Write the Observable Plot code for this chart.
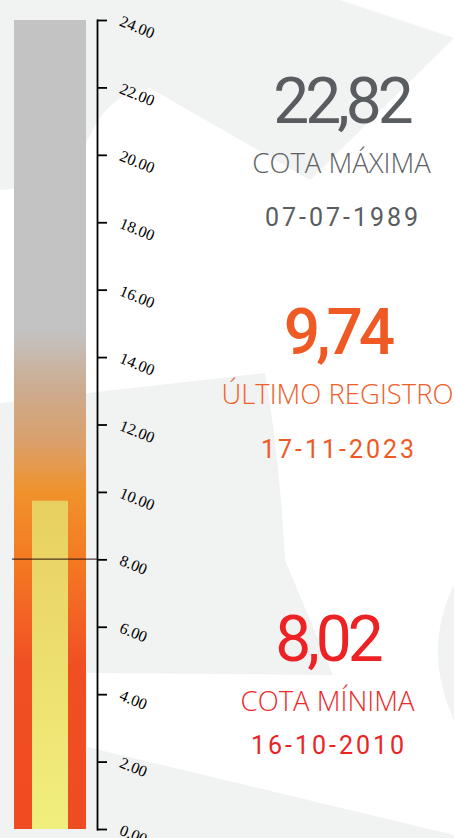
<!DOCTYPE html>
<html><head><meta charset="utf-8">
<script src="https://cdn.jsdelivr.net/npm/d3@7"></script>
<script src="https://cdn.jsdelivr.net/npm/@observablehq/plot@0.6"></script>
<style>
html,body{margin:0;padding:0;background:#fff;}
#wrap{position:relative;width:454px;height:838px;overflow:hidden;}
#bg{position:absolute;left:0;top:0;}
#chart{position:absolute;left:0;top:0;}
</style></head><body>
<div id="wrap">
<svg id="bg" width="454" height="838" viewBox="0 0 454 838">
 <rect width="454" height="838" fill="#ffffff"/>
 <path fill="#f1f2f2" d="M0,0 L340,0 L454,38 L310,180 L150,88 Q115,92 95,125 Q70,185 0,190 Z"/>
 <path fill="#f1f2f2" d="M0,403 L265,373 Q280,460 285,560 L333,675 L87,673 L87,747 L454,835 L454,838 L0,838 Z"/>
 <path fill="#f1f2f2" d="M454,585 Q422,650 454,720 Z"/>
</svg>
<div id="chart"></div>
</div>
<script>
// ---- data ----
const yMax = 24;
const yTicks = [0, 2, 4, 6, 8, 10, 12, 14, 16, 18, 20, 22, 24];
const barKey = ["nivel"];
const statLabels = ["COTA MÁXIMA", "ÚLTIMO REGISTRO", "COTA MÍNIMA"];
const statValues = [22.82, 9.74, 8.02];
const statDates = ["07-07-1989", "17-11-2023", "16-10-2010"];
const outerStops = [[24, "#c3c3c3"], [14.8, "#c3c3c3"], [13, "#cdab8e"], [11.5, "#daa06c"], [10, "#f0922c"], [8, "#f47a22"], [6, "#f25f25"], [4.8, "#f04e23"], [0, "#f04c22"]];
const innerStops = [[9.74, "#e8cf60"], [0, "#f1ef7e"]];

// ---- helpers ----
const fmtDec = d3.formatLocale({decimal: ",", thousands: ".", grouping: [3], currency: ["", ""]}).format(".2f");
const latest = statValues[1];
const innerData = barKey.map(k => ({k, v: latest}));

function gradients() {
  const g = d3.create("svg:g");
  const defs = g.append("defs");
  const add = (id, stops, top) => {
    const lg = defs.append("linearGradient").attr("id", id)
      .attr("x1", 0).attr("y1", 0).attr("x2", 0).attr("y2", 1);
    for (const [v, c] of stops) lg.append("stop").attr("offset", (top - v) / top).attr("stop-color", c);
  };
  add("gOuter", outerStops, yMax);
  add("gInner", innerStops, latest);
  return g.node();
}

function spacing(ls) {
  return (index, scales, values, dims, ctx, next) => {
    const g = next(index, scales, values, dims, ctx);
    g.setAttribute("letter-spacing", ls);
    return g;
  };
}

const mL = 14, mT = 20;
const groups = [
  {x: 341, ys: [122, 172, 225], cValue: "#595d60", cLabel: "#606366", cDate: "#595d60", wValue: 400, wDate: 400},
  {x: 337, ys: [353, 403, 457], cValue: "#ef5a24", cLabel: "#f0602a", cDate: "#ef5a24", wValue: 500, wDate: 400},
  {x: 327, ys: [660, 710, 753], cValue: "#ed2224", cLabel: "#ed2a2a", cDate: "#ed2224", wValue: 400, wDate: 400}
];

const textMarks = groups.flatMap((g, i) => [
  Plot.text([statValues[i]], {text: d => fmtDec(d), frameAnchor: "top-left", dx: g.x - mL, dy: g.ys[0] - mT,
    lineAnchor: "bottom", textAnchor: "middle", fill: g.cValue, fontSize: 64, fontFamily: "Roboto, sans-serif",
    fontWeight: g.wValue, render: spacing(-4)}),
  Plot.text([statLabels[i]], {text: d => d, frameAnchor: "top-left", dx: g.x - mL, dy: g.ys[1] - mT,
    lineAnchor: "bottom", textAnchor: "middle", fill: g.cLabel, fontSize: 27.5, fontFamily: "'Open Sans', sans-serif",
    fontWeight: 300}),
  Plot.text([statDates[i]], {text: d => d, frameAnchor: "top-left", dx: g.x - mL + 1.5, dy: g.ys[2] - mT,
    lineAnchor: "bottom", textAnchor: "middle", fill: g.cDate, fontSize: 25, fontFamily: "Roboto, sans-serif",
    fontWeight: g.wDate, render: spacing(3)})
]);

const chart = Plot.plot({
  width: 454, height: 838,
  marginTop: mT, marginBottom: 9, marginLeft: mL, marginRight: 357,
  style: {background: "transparent", overflow: "visible"},
  x: {type: "band", domain: barKey, padding: 0, axis: null},
  y: {domain: [0, yMax], axis: null, label: null},
  marks: [
    gradients,
    Plot.barY(barKey, {x: d => d, y1: 0, y2: yMax, fill: "url(#gOuter)", insetRight: 11}),
    Plot.barY(innerData, {x: "k", y: "v", fill: "url(#gInner)", insetLeft: 18, insetRight: 29}),
    Plot.frame({anchor: "right", stroke: "#000", strokeWidth: 1.8}),
    // tick marks on the right of the axis line
    Plot.ruleY(yTicks, {stroke: "#000", strokeWidth: 1.8, insetLeft: 83, insetRight: -10}),
    // rotated tick labels
    Plot.text(yTicks, {y: d => d, text: d => d3.format(".2f")(d), frameAnchor: "right", dx: 23,
      rotate: 22, textAnchor: "start", lineAnchor: "middle", fill: "#000", fontSize: 16,
      fontFamily: "'Liberation Serif', 'Times New Roman', serif"}),
    Plot.ruleY([statValues[2]], {stroke: "#2a1010", strokeOpacity: 0.8, strokeWidth: 1.2, insetLeft: -2}),
    ...textMarks
  ]
});
document.getElementById("chart").appendChild(chart);
</script>
</body></html>
